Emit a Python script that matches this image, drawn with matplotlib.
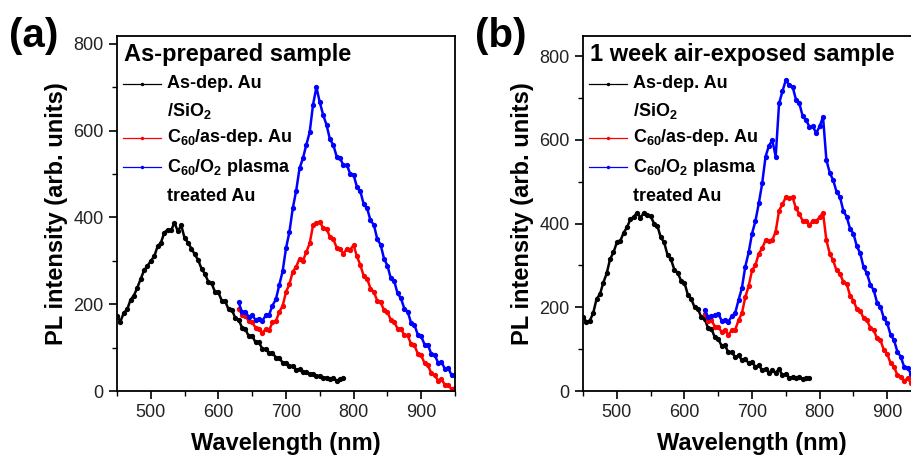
import numpy as np
import matplotlib
matplotlib.use("Agg")
import matplotlib.pyplot as plt

plt.rcParams['font.family'] = ['Liberation Sans', 'DejaVu Sans']
plt.rcParams['mathtext.fontset'] = 'custom'
plt.rcParams['mathtext.rm'] = 'Liberation Sans:bold'
plt.rcParams['mathtext.it'] = 'Liberation Sans:bold'
plt.rcParams['mathtext.bf'] = 'Liberation Sans:bold'

# wavelength grids (nm)
wl_au = np.arange(450, 786, 5)
wl_c60 = np.arange(630, 951, 5)

# (a) as-prepared
a_au = [172, 160, 180, 188, 210, 220, 238, 258, 278, 288, 300, 310, 333, 342, 365, 372,
        370, 388, 368, 382, 352, 342, 328, 315, 302, 282, 270, 252, 248, 228, 227, 208,
        207, 188, 187, 168, 164, 146, 142, 126, 127, 112, 112, 97, 97, 87, 88, 77,
        77, 65, 65, 57, 58, 49, 50, 43, 43, 39, 39, 35, 35, 31, 31, 28, 30, 24, 27, 29]
a_c60 = [190, 176, 173, 161, 158, 146, 143, 134, 142, 140, 158, 161, 182, 196, 228, 246,
         275, 286, 305, 300, 320, 340, 382, 388, 390, 375, 374, 355, 350, 330, 328, 316,
         328, 326, 336, 310, 290, 265, 259, 236, 228, 208, 205, 186, 182, 164, 159, 144,
         144, 128, 128, 108, 105, 86, 82, 64, 59, 41, 36, 24, 28, 14, 13, 4, 7]
a_c60_o2 = [204, 181, 182, 171, 174, 164, 167, 162, 174, 176, 197, 211, 244, 276, 329, 366,
            421, 461, 513, 536, 567, 596, 660, 700, 665, 636, 613, 580, 567, 540, 536, 520,
            521, 500, 498, 470, 460, 430, 421, 393, 383, 350, 337, 305, 289, 260, 254, 225,
            214, 190, 183, 157, 152, 130, 126, 107, 106, 85, 83, 65, 67, 51, 53, 36, 37]

# (b) 1 week air-exposed
b_au = [177, 165, 168, 186, 220, 231, 259, 281, 315, 331, 355, 358, 378, 391, 410, 416,
        426, 414, 426, 421, 418, 400, 394, 367, 355, 325, 315, 290, 283, 263, 259, 230,
        220, 200, 196, 176, 172, 150, 148, 128, 124, 108, 109, 92, 93, 81, 85, 74,
        77, 66, 69, 58, 61, 50, 53, 44, 49, 44, 52, 38, 41, 32, 33, 31, 33, 28, 32, 30]
b_c60 = [184, 168, 169, 154, 153, 141, 145, 134, 145, 146, 169, 186, 224, 251, 288, 301,
         328, 341, 360, 358, 360, 381, 431, 446, 463, 461, 463, 436, 423, 406, 407, 396,
         407, 406, 415, 426, 360, 328, 312, 288, 280, 261, 256, 228, 216, 196, 192, 174,
         169, 151, 145, 126, 121, 98, 89, 66, 58, 38, 34, 24, 30, 20, 23, 14, 17]
b_c60_o2 = [193, 176, 178, 181, 185, 168, 169, 166, 178, 186, 217, 246, 297, 331, 376, 406,
            448, 496, 560, 586, 599, 560, 687, 716, 743, 731, 727, 696, 687, 656, 647, 631,
            632, 616, 632, 655, 552, 521, 504, 476, 464, 431, 416, 388, 376, 346, 329, 296,
            281, 254, 241, 211, 201, 174, 162, 134, 122, 94, 82, 58, 56, 41, 44, 31, 34]

labels = [r'As-dep. Au', r'/SiO$_2$', r'C$_{60}$/as-dep. Au', r'C$_{60}$/O$_2$ plasma', r'treated Au']
colors = ['black', 'red', 'blue']

fig = plt.figure(figsize=(9.12, 4.63), dpi=100)
ax_a = fig.add_axes([0.1283, 0.1555, 0.3706, 0.7667])
ax_b = fig.add_axes([0.6393, 0.1555, 0.3706, 0.7667])


def draw_panel(ax, series, ymax, title, tag):
    xs = [wl_au, wl_c60, wl_c60]
    for x, y, c in zip(xs, series, colors):
        ax.plot(x, y, color=c, lw=1.8, marker='o', ms=3.8, mew=0)
    ax.set_xlim(450, 950)
    ax.set_ylim(0, ymax)
    ax.set_xticks([500, 600, 700, 800, 900])
    ax.set_xticks(np.arange(450, 951, 50), minor=True)
    ax.set_yticks([0, 200, 400, 600, 800])
    ax.set_yticks(np.arange(0, ymax, 100), minor=True)
    ax.tick_params(which='major', direction='out', length=6, width=1.2, labelsize=13,
                   labelcolor='#222222')
    ax.tick_params(which='minor', direction='out', length=3.5, width=1.0)
    for s in ax.spines.values():
        s.set_linewidth(1.3)
    ax.set_xlabel('Wavelength (nm)', fontsize=17, fontweight='bold', labelpad=8)
    ax.set_ylabel('PL intensity (arb. units)', fontsize=17, fontweight='bold', labelpad=4)
    ax.text(0.021, 0.949, title, transform=ax.transAxes, fontsize=17, fontweight='bold',
            va='center', ha='left')
    # legend drawn by hand so the handle sits on the first line of each label
    rows = [0.865, 0.789, 0.713, 0.631, 0.549]
    handles = {0: 'black', 2: 'red', 3: 'blue'}
    for i, (lab, yy) in enumerate(zip(labels, rows)):
        if i in handles:
            ax.plot([0.018, 0.130], [yy, yy], transform=ax.transAxes, color=handles[i],
                    lw=0.9, clip_on=False)
            ax.plot([0.074], [yy], transform=ax.transAxes, color=handles[i], marker='o',
                    ms=2.5, mew=0, clip_on=False)
        ax.text(0.148, yy, lab, transform=ax.transAxes, fontsize=13, fontweight='bold',
                va='center', ha='left')
    ax.text(-0.32, 1.0, tag, transform=ax.transAxes, fontsize=29, fontweight='bold',
            va='center', ha='left')


draw_panel(ax_a, [a_au, a_c60, a_c60_o2], 818, 'As-prepared sample', '(a)')
draw_panel(ax_b, [b_au, b_c60, b_c60_o2], 848, '1 week air-exposed sample', '(b)')

fig.savefig('out.png', dpi=100)
